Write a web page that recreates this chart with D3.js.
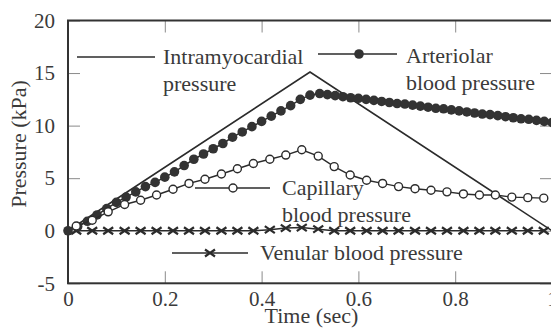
<!DOCTYPE html>
<html>
<head>
<meta charset="utf-8">
<script src="https://cdn.jsdelivr.net/npm/d3@7"></script>
<style>
	body { margin: 0; background: #fff; }
	text { font-family: "Liberation Serif", "Times New Roman", "DejaVu Serif", serif; fill: #3a3a3a; }
</style>
</head>
<body>
<svg id="chart"></svg>
<script>
// axis ticks
let xTicks = [0, 0.2, 0.4, 0.6, 0.8, 1];
let xTickLabels = ['0', '0.2', '0.4', '0.6', '0.8', '1'];
let yTicks = [-5, 0, 5, 10, 15, 20];
let yTickLabels = ['-5', '0', '5', '10', '15', '20'];

// intramyocardial pressure (plain line)
let intraTime = [0, 0.5, 1.0];
let intraPressure = [0, 15.1, 0];

// arteriolar blood pressure (filled dots)
let arterialTime = [0, 0.02, 0.04, 0.06, 0.08, 0.10, 0.12, 0.14, 0.16, 0.18, 0.20, 0.22, 0.24, 0.26,
	0.28, 0.30, 0.32, 0.34, 0.36, 0.38, 0.40, 0.42, 0.44, 0.46, 0.48, 0.50, 0.52,
	0.536, 0.552, 0.568, 0.584, 0.600, 0.616, 0.632, 0.648, 0.664, 0.680, 0.696, 0.712, 0.728, 0.744,
	0.760, 0.776, 0.792, 0.808, 0.824, 0.840, 0.856, 0.872, 0.888, 0.904, 0.920, 0.936, 0.952, 0.968, 0.984, 1.0];
let arterialPressure = [0, 0.4, 0.9, 1.5, 2.1, 2.7, 3.2, 3.7, 4.2, 4.6, 5.1, 5.6, 6.2, 6.8,
	7.3, 7.8, 8.3, 8.9, 9.4, 9.9, 10.4, 10.9, 11.4, 11.9, 12.5, 12.9, 13.05,
	12.95, 12.85, 12.75, 12.65, 12.6, 12.5, 12.4, 12.3, 12.2, 12.1, 12.05, 11.95, 11.85, 11.75,
	11.65, 11.6, 11.5, 11.4, 11.3, 11.2, 11.1, 11.05, 10.95, 10.85, 10.75, 10.65, 10.6, 10.5, 10.4, 10.3];

// capillary + venular share the same sample times
let sampleTime = [0.017, 0.05, 0.083, 0.117, 0.15, 0.183, 0.217, 0.25, 0.283, 0.317, 0.35, 0.383, 0.417,
	0.45, 0.483, 0.517, 0.55, 0.583, 0.617, 0.65, 0.683, 0.717, 0.75, 0.783, 0.817, 0.85, 0.883, 0.917, 0.95, 0.983];
let capillaryPressure = [0.45, 1.0, 1.8, 2.5, 2.9, 3.4, 3.95, 4.5, 4.9, 5.4, 5.9, 6.4, 6.8,
	7.2, 7.7, 7.1, 6.1, 5.3, 4.8, 4.5, 4.2, 4.0, 3.85, 3.7, 3.5, 3.4, 3.4, 3.2, 3.15, 3.1];
let venularPressure = [0, 0, 0, 0, 0, 0, 0, 0, 0, 0, 0, 0, 0.1,
	0.25, 0.3, 0.15, 0, 0, 0, 0, 0, 0, 0, 0, 0, 0, 0, 0, 0, 0];

let width = 551, height = 330;
let plotLeft = 68, plotRight = 552, plotTop = 20.5, plotBottom = 283.3;
let ink = '#2b2b2b';

let svg = d3.select('#chart')
	.attr('width', width)
	.attr('height', height);

let xScale = d3.scaleLinear().domain([0, 1]).range([plotLeft, plotRight]);
let yScale = d3.scaleLinear().domain([-5, 20]).range([plotBottom, plotTop]);

let zip = (ts, ps) => ts.map((t, i) => ({ t: t, p: ps[i] }));
let line = d3.line().x(d => xScale(d.t)).y(d => yScale(d.p));

// AXES - ticks point inward on all four sides
let tickLen = 12;
let axes = [
	{ axis: d3.axisBottom(xScale).tickValues(xTicks).tickFormat((d, i) => xTickLabels[i]).tickPadding(8), tr: `translate(0,${plotBottom})` },
	{ axis: d3.axisTop(xScale).tickValues(xTicks).tickFormat(''), tr: `translate(0,${plotTop})` },
	{ axis: d3.axisLeft(yScale).tickValues(yTicks).tickFormat((d, i) => yTickLabels[i]).tickPadding(13), tr: `translate(${plotLeft},0)` },
	{ axis: d3.axisRight(yScale).tickValues(yTicks).tickFormat(''), tr: `translate(${plotRight},0)` }
];
axes.forEach(a => {
	let g = svg.append('g')
		.attr('transform', a.tr)
		.call(a.axis.tickSizeInner(-tickLen).tickSizeOuter(0));
	g.attr('font-family', null);
	g.select('.domain').remove();
	g.selectAll('.tick line').attr('stroke', '#8a8a8a').attr('stroke-width', 1);
	g.selectAll('.tick text')
		.attr('font-size', 21)
		.attr('fill', '#3a3a3a');
});

// frame
svg.append('rect')
	.attr('x', plotLeft).attr('y', plotTop)
	.attr('width', plotRight - plotLeft).attr('height', plotBottom - plotTop)
	.attr('fill', 'none')
	.attr('stroke', '#333')
	.attr('stroke-width', 2);

// axis titles
svg.append('text')
	.attr('x', 311.5).attr('y', 323)
	.attr('text-anchor', 'middle')
	.attr('font-size', 22)
	.text('Time (sec)');

svg.append('text')
	.attr('transform', 'rotate(-90)')
	.attr('x', -144).attr('y', 26)
	.attr('text-anchor', 'middle')
	.attr('font-size', 22)
	.text('Pressure (kPa)');

// SERIES
let intraData = zip(intraTime, intraPressure);
let arterialData = zip(arterialTime, arterialPressure);
let capillaryData = zip(sampleTime, capillaryPressure);
let venularData = zip(sampleTime, venularPressure);

svg.append('path').datum(venularData)
	.attr('d', line).attr('fill', 'none').attr('stroke', ink).attr('stroke-width', 1.5);

function crossMarks(sel) {
	sel.append('path')
		.attr('d', 'M-5,-3.5L5,3.5M-5,3.5L5,-3.5')
		.attr('stroke', ink)
		.attr('stroke-width', 2.2)
		.attr('fill', 'none');
}
svg.append('g').selectAll('g').data(venularData).enter().append('g')
	.attr('transform', d => `translate(${xScale(d.t)},${yScale(d.p)})`)
	.call(crossMarks);

svg.append('path').datum(intraData)
	.attr('d', line).attr('fill', 'none').attr('stroke', ink).attr('stroke-width', 1.6);

svg.append('path').datum(arterialData)
	.attr('d', line).attr('fill', 'none').attr('stroke', ink).attr('stroke-width', 1.5);
svg.append('g').selectAll('circle').data(arterialData).enter().append('circle')
	.attr('cx', d => xScale(d.t))
	.attr('cy', d => yScale(d.p))
	.attr('r', 4.8)
	.attr('fill', '#333');

svg.append('path').datum(capillaryData)
	.attr('d', line).attr('fill', 'none').attr('stroke', ink).attr('stroke-width', 1.4);
svg.append('g').selectAll('circle').data(capillaryData).enter().append('circle')
	.attr('cx', d => xScale(d.t))
	.attr('cy', d => yScale(d.p))
	.attr('r', 4)
	.attr('fill', '#fff')
	.attr('stroke', ink)
	.attr('stroke-width', 1.4);

// LEGEND (placed inside the plot like the original)
function legendLine(x1, x2, y) {
	svg.append('line')
		.attr('x1', x1).attr('x2', x2).attr('y1', y).attr('y2', y)
		.attr('stroke', ink).attr('stroke-width', 1.5);
}
function legendText(x, y, lines) {
	lines.forEach((s, i) => {
		svg.append('text')
			.attr('x', x).attr('y', y + i * 27)
			.attr('font-size', 22)
			.text(s);
	});
}

legendLine(77, 155, 57);
legendText(163, 64, ['Intramyocardial', 'pressure']);

legendLine(318, 397, 54);
svg.append('circle').attr('cx', 359).attr('cy', 54).attr('r', 4.8).attr('fill', '#333');
legendText(406, 63, ['Arteriolar', 'blood pressure']);

legendLine(195, 270, 188);
svg.append('circle').attr('cx', 233).attr('cy', 188).attr('r', 4)
	.attr('fill', '#fff').attr('stroke', ink).attr('stroke-width', 1.4);
legendText(282, 195, ['Capillary', 'blood pressure']);

legendLine(172, 248, 253);
svg.append('g').attr('transform', 'translate(210,253)').call(crossMarks);
legendText(260, 260, ['Venular blood pressure']);
</script>
</body>
</html>
